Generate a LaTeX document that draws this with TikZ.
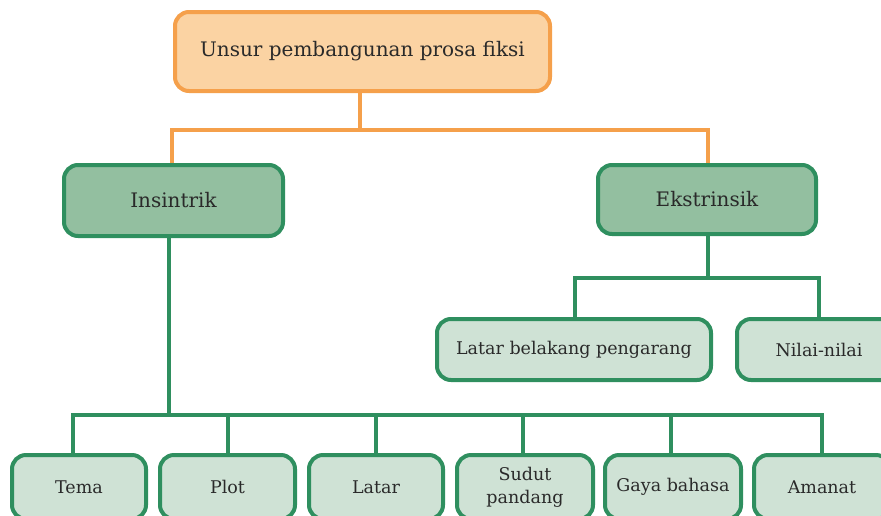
\documentclass[tikz,border=0pt]{standalone}
\usepackage{fontspec}
\setmainfont{DejaVu Serif}
\usetikzlibrary{backgrounds}
\definecolor{orb}{HTML}{F5A04B}
\definecolor{orf}{HTML}{FBD3A3}
\definecolor{grb}{HTML}{2F8F5F}
\definecolor{grm}{HTML}{93BFA0}
\definecolor{grl}{HTML}{CFE2D5}
\definecolor{txt}{HTML}{2A2A2A}
\begin{document}
\begin{tikzpicture}[x=1pt,y=-1pt,
  box/.style={draw, line width=4pt, rounded corners=14pt, align=center, text=txt, inner sep=0pt},
  topbox/.style={box, draw=orb, fill=orf, font=\fontsize{20}{24}\selectfont},
  midbox/.style={box, draw=grb, fill=grm, font=\fontsize{20}{24}\selectfont},
  leafbox/.style={box, draw=grb, fill=grl, font=\fontsize{17.5}{23}\selectfont},
  oline/.style={draw=orb, line width=4pt},
  gline/.style={draw=grb, line width=4pt}]
\clip (0,0) rectangle (881,515);
\node[topbox, minimum width=375pt, minimum height=79pt] (top) at (362.5,51.5) {Unsur pembangunan prosa fiksi};
\node[midbox, minimum width=219pt, minimum height=71pt] (ins) at (173.5,200.5) {Insintrik};
\node[midbox, minimum width=218pt, minimum height=69pt] (eks) at (707,199.5) {Ekstrinsik};
\node[leafbox, minimum width=274pt, minimum height=61pt] (lbp) at (574,349.5) {Latar belakang pengarang};
\node[leafbox, minimum width=164pt, minimum height=61pt] (nil) at (819,349.5) {Nilai-nilai};
\node[leafbox, minimum width=134pt, minimum height=64pt] (tema) at (79,487) {Tema};
\node[leafbox, minimum width=135pt, minimum height=64pt] (plot) at (227.5,487) {Plot};
\node[leafbox, minimum width=134pt, minimum height=64pt] (latar) at (376,487) {Latar};
\node[leafbox, minimum width=136pt, minimum height=64pt] (sudut) at (525,487) {Sudut\\pandang};
\node[leafbox, minimum width=136pt, minimum height=64pt] (gaya) at (673,487) {Gaya bahasa};
\node[leafbox, minimum width=136pt, minimum height=64pt] (aman) at (822,487) {Amanat};
\begin{scope}[on background layer]
  \coordinate (ob) at (360,130);
  \coordinate (gbus) at (169,415);
  \coordinate (ebus) at (708,278);
  \draw[oline] ([xshift=-2.5pt]top.south) -- (ob);
  \draw[oline] (ob) -| ([xshift=-1.5pt]ins.north);
  \draw[oline] (ob) -| ([xshift=1pt]eks.north);
  \draw[gline] ([xshift=-4.5pt]ins.south) -- (gbus);
  \draw[gline] (gbus) -| ([xshift=-6pt]tema.north);
  \draw[gline] (gbus) -| (plot.north);
  \draw[gline] (gbus) -| (latar.north);
  \draw[gline] (gbus) -| ([xshift=-2pt]sudut.north);
  \draw[gline] (gbus) -| ([xshift=-2pt]gaya.north);
  \draw[gline] (gbus) -| (aman.north);
  \draw[gline] ([xshift=1pt]eks.south) -- (ebus);
  \draw[gline] (ebus) -| ([xshift=1pt]lbp.north);
  \draw[gline] (ebus) -| (nil.north);
\end{scope}
\end{tikzpicture}
\end{document}
